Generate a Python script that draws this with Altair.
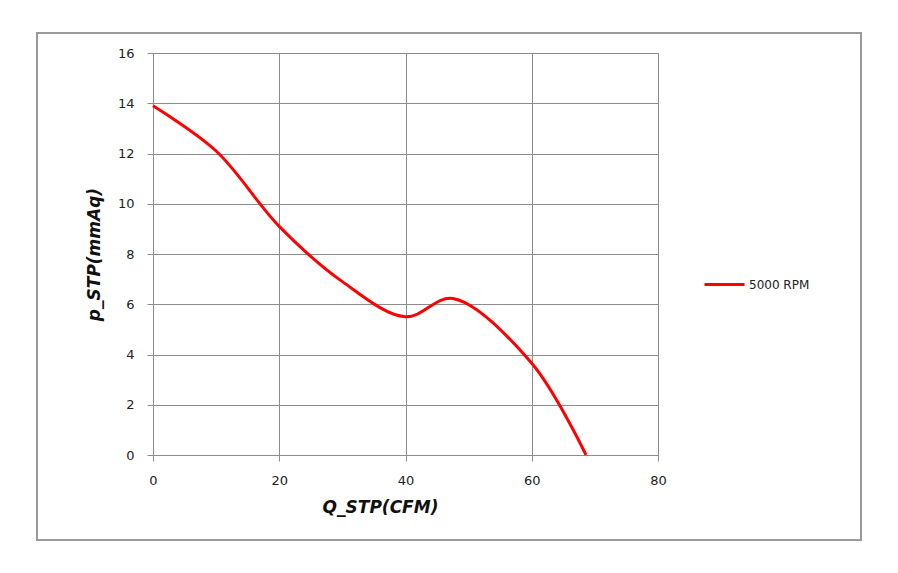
import altair as alt
import pandas as pd

q_stp = [0, 10, 20, 30, 40, 47.5, 60, 68.6]
p_stp = [13.9, 12.1, 9.1, 6.9, 5.5, 6.23, 3.65, 0.0]
series = ["5000 RPM"] * len(q_stp)

df = pd.DataFrame({"Q": q_stp, "P": p_stp, "series": series})

W, H = 505, 402

border = alt.Chart(pd.DataFrame({"a": [0]})).mark_rect(
    fill=None, stroke="#9a9a9a", strokeWidth=2, clip=False
).encode(
    x=alt.value(-116), x2=alt.value(708), y=alt.value(-20), y2=alt.value(487)
)

line = alt.Chart(df).mark_line(
    interpolate="catmull-rom", strokeWidth=3
).encode(
    x=alt.X("Q:Q", scale=alt.Scale(domain=[0, 80], nice=False),
            axis=alt.Axis(values=[0, 20, 40, 60, 80], title="Q_STP(CFM)",
                          titleX=227, titleY=44)),
    y=alt.Y("P:Q", scale=alt.Scale(domain=[0, 16], nice=False),
            axis=alt.Axis(values=[0, 2, 4, 6, 8, 10, 12, 14, 16], title="p_STP(mmAq)",
                          titleX=-50, titleY=201)),
    color=alt.Color("series:N", scale=alt.Scale(range=["#ff0000"]),
                    legend=alt.Legend(title=None, orient="none", legendX=550, legendY=210,
                                      symbolType="stroke", symbolSize=1600,
                                      symbolStrokeWidth=3, labelFontSize=12,
                                      labelFont="DejaVu Sans", labelColor="#222",
                                      labelOffset=3)),
)

chart = alt.layer(border, line).properties(
    width=W, height=H,
    padding={"left": 145, "top": 45, "right": 230, "bottom": 110},
    autosize=alt.AutoSizeParams(type="none"),
).configure_view(stroke="#8c8c8c", strokeWidth=1).configure_axis(
    grid=True, gridColor="#8c8c8c", gridWidth=1, gridOpacity=1,
    domainColor="#8c8c8c", domainWidth=1, tickColor="#8c8c8c", tickSize=6,
    labelFont="DejaVu Sans", labelFontSize=13, labelColor="#222", labelFlush=False,
    titleFont="DejaVu Sans", titleFontSize=17, titleFontWeight="bold",
    titleFontStyle="italic", titleColor="#111",
).configure_axisX(labelPadding=13, labelAngle=0).configure_axisY(
    labelPadding=13, titleAngle=-90
)

chart.save("out.html", embed_options={"renderer": "svg", "actions": False})
